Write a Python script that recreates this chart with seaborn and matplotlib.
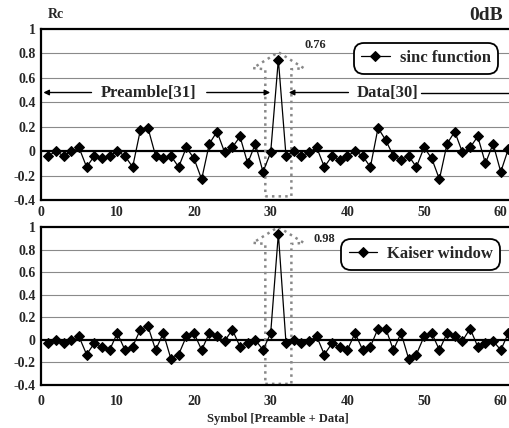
import numpy as np
import pandas as pd
import matplotlib
matplotlib.use("Agg")
import matplotlib.pyplot as plt
from matplotlib.patches import Polygon
import seaborn as sns

# symbol index: 31 preamble + 30 data
symbols = list(range(1, 62))

# correlation, sinc function (0dB)
sinc_vals = [-0.04, 0.00, -0.04, 0.00, 0.03, -0.13, -0.04, -0.06, -0.04, 0.00,
             -0.04, -0.13, 0.17, 0.19, -0.04, -0.06, -0.04, -0.13, 0.03, -0.06,
             -0.23, 0.06, 0.16, -0.01, 0.03, 0.12, -0.10, 0.06, -0.17, -0.01,
             0.75, -0.04, 0.00, -0.04, -0.01, 0.03, -0.13, -0.04, -0.07, -0.04,
             0.00, -0.04, -0.13, 0.19, 0.09, -0.04, -0.07, -0.04, -0.13, 0.03,
             -0.06, -0.23, 0.06, 0.16, -0.01, 0.03, 0.12, -0.10, 0.06, -0.17,
             0.02]

# correlation, Kaiser window (0dB)
kaiser_vals = [-0.03, 0.00, -0.03, 0.00, 0.03, -0.13, -0.03, -0.06, -0.09, 0.06,
               -0.09, -0.06, 0.09, 0.12, -0.09, 0.06, -0.17, -0.13, 0.03, 0.06,
               -0.09, 0.06, 0.03, -0.01, 0.09, -0.06, -0.03, 0.00, -0.09, 0.06,
               0.94, -0.03, 0.00, -0.03, -0.01, 0.03, -0.13, -0.03, -0.06, -0.09,
               0.06, -0.09, -0.06, 0.10, 0.10, -0.09, 0.06, -0.17, -0.13, 0.03,
               0.06, -0.09, 0.06, 0.03, -0.01, 0.10, -0.06, -0.03, -0.01, -0.09,
               0.06]

peak_labels = ["0.76", "0.98"]
series_names = ["sinc function", "Kaiser window"]
yticks = [-0.4, -0.2, 0, 0.2, 0.4, 0.6, 0.8, 1]
ytick_labels = ["-0.4", "-0.2", "0", "0.2", "0.4", "0.6", "0.8", "1"]
xticks = [0, 10, 20, 30, 40, 50, 60]

sns.set_style("white")
plt.rcParams['font.family'] = ['Liberation Serif', 'DejaVu Serif']
plt.rcParams['font.weight'] = 'bold'

fig = plt.figure(figsize=(5.1, 4.28), dpi=100)
W, H = 510, 428
# axes rectangles in pixels: left, top, bottom (right runs past the image edge)
ax1 = fig.add_axes([40.6 / W, 1 - 200 / H, 475.5 / W, 171 / H])
ax2 = fig.add_axes([40.6 / W, 1 - 385 / H, 475.5 / W, 158 / H])

df1 = pd.DataFrame({'Symbol': symbols, 'Rc': sinc_vals})
df2 = pd.DataFrame({'Symbol': symbols, 'Rc': kaiser_vals})

for ax, df, name in [(ax1, df1, series_names[0]), (ax2, df2, series_names[1])]:
    for g in [0.8, 0.6, 0.4, 0.2, -0.2]:
        ax.axhline(g, color='#8a8a8a', lw=0.8, zorder=0)
    ax.axhline(0, color='black', lw=1.6, zorder=1)
    sns.lineplot(data=df, x='Symbol', y='Rc', ax=ax, color='black', lw=0.9,
                 marker='D', markersize=5.5, markeredgecolor='black',
                 label=name, zorder=3)
    ax.set_xlim(0, 62)
    ax.set_ylim(-0.4, 1)
    ax.set_yticks(yticks)
    ax.set_yticklabels(ytick_labels, fontsize=10, fontweight='bold')
    ax.set_xticks(xticks)
    ax.set_xticklabels([str(t) for t in xticks], fontsize=10, fontweight='bold')
    ax.tick_params(length=0)
    ax.set_ylabel('')
    for s in ['left', 'top', 'bottom']:
        ax.spines[s].set_linewidth(1.6)
        ax.spines[s].set_color('black')
    ax.spines['right'].set_visible(False)

ax1.tick_params(axis='x', pad=4)
ax2.tick_params(axis='x', pad=7)
ax1.set_xlabel('')
ax2.set_xlabel('Symbol [Preamble + Data]', fontsize=9, fontweight='bold', labelpad=4)

# legends
for ax, anchor in [(ax1, (0.955, 0.9)), (ax2, (0.96, 0.905))]:
    leg = ax.legend(loc='upper right', bbox_to_anchor=anchor, borderaxespad=0,
                    fancybox=True, framealpha=1, handlelength=1.7,
                    handletextpad=0.6, borderpad=0.25,
                    prop={'family': 'Liberation Serif', 'weight': 'bold', 'size': 12})
    leg.get_frame().set_edgecolor('black')
    leg.get_frame().set_linewidth(1.3)
    leg.get_frame().set_boxstyle('round,pad=0.2,rounding_size=0.6')

# dotted block arrows around the peak
ax1.add_patch(Polygon([(29.3, -0.37), (32.7, -0.37), (32.7, 0.67), (34.3, 0.68),
                       (31, 0.81), (27.7, 0.68), (29.3, 0.67)], closed=True,
                      fill=False, edgecolor='#888888', ls=':', lw=1.8, zorder=2))
ax2.add_patch(Polygon([(29.3, -0.39), (32.7, -0.39), (32.7, 0.85), (34.3, 0.86),
                       (31, 1.0), (27.7, 0.86), (29.3, 0.85)], closed=True,
                      fill=False, edgecolor='#888888', ls=':', lw=1.8, zorder=2,
                      clip_on=False))

ax1.text(34.4, 0.87, peak_labels[0], fontsize=9, fontweight='bold', va='center')
ax2.text(35.6, 0.89, peak_labels[1], fontsize=9, fontweight='bold', va='center',
         zorder=6)

# preamble / data span arrows
ya = 0.48
arr = dict(arrowstyle='-|>', color='black', lw=1.0, mutation_scale=8)
ax1.annotate('', xy=(0, ya), xytext=(7, ya), arrowprops=arr)
ax1.annotate('', xy=(30.3, ya), xytext=(21.3, ya), arrowprops=arr)
ax1.text(14.1, ya, 'Preamble[31]', fontsize=12, fontweight='bold',
         ha='center', va='center')
ax1.annotate('', xy=(32.0, ya), xytext=(40.5, ya), arrowprops=arr)
ax1.plot([49.6, 62], [ya, ya], color='black', lw=1.0)
ax1.text(45.2, ya, 'Data[30]', fontsize=12, fontweight='bold',
         ha='center', va='center')

fig.text(48 / W, 1 - 15 / H, 'Rc', fontsize=10, fontweight='bold', va='center')
fig.text(503 / W, 1 - 15 / H, '0dB', fontsize=14, fontweight='bold',
         va='center', ha='right')

fig.savefig('out.png', dpi=100)
